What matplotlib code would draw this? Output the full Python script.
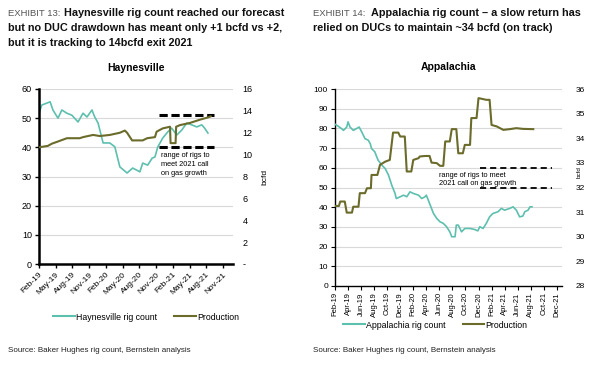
import matplotlib.pyplot as plt
from matplotlib.lines import Line2D

plt.rcParams['font.family'] = ['Liberation Sans', 'DejaVu Sans']

TEAL = '#5dbfae'
OLIVE = '#6b6b2b'
GRID = '#d9d9d9'

# Haynesville, x in months since Feb-19
hv_rig_m = [0, 0.5, 2.0, 2.5, 3.4, 4.1, 5.0, 5.9, 7.0, 7.9, 8.6, 9.5, 10.0, 10.6,
            11.5, 12.7, 13.6, 14.5, 15.8, 16.8, 18.1, 18.6, 19.5, 20.3, 20.8, 21.3,
            22.2, 23.1, 23.8, 24.7, 25.6, 26.5, 27.4, 28.3, 29.2, 29.7, 30.3]
hv_rig = [51.7, 54.5, 55.6, 52.8, 50.0, 52.8, 51.7, 51.0, 48.7, 51.7, 50.4, 52.8, 50.4, 48.3,
          41.5, 41.5, 40.2, 33.3, 31.2, 32.9, 31.6, 34.6, 33.9, 36.3, 36.7, 40.1,
          43.2, 45.3, 46.6, 44.2, 45.9, 48.3, 47.7, 47.0, 47.7, 46.6, 44.9]
hv_prod_m = [0, 1.6, 2.3, 3.4, 5.0, 7.3, 7.9, 9.7, 10.9, 12.7, 14.5, 15.4, 15.8, 16.7,
             18.6, 19.4, 20.8, 21.1, 22.2, 23.5, 23.6, 24.5, 24.6, 25.3, 27.1, 28.9, 30.3, 30.8]
hv_prod = [10.67, 10.8, 11.0, 11.2, 11.5, 11.5, 11.6, 11.8, 11.7, 11.8, 12.0, 12.2, 12.0, 11.3,
           11.3, 11.5, 11.6, 12.1, 12.4, 12.55, 11.05, 11.05, 12.55, 12.7, 12.9, 13.2, 13.4, 13.5]
hv_range = [40, 51]
hv_range_m = [21.5, 31.4]
hv_ticks = ['Feb-19', 'May-19', 'Aug-19', 'Nov-19', 'Feb-20', 'May-20', 'Aug-20',
            'Nov-20', 'Feb-21', 'May-21', 'Aug-21', 'Nov-21']

# Appalachia
ap_rig_m = [0, 0.5, 1.0, 1.3, 1.8, 2.0, 2.3, 2.8, 3.3, 3.7, 4.1, 4.6, 5.1, 5.4, 5.6, 6.1,
            6.6, 7.2, 7.7, 8.2, 8.7, 9.2, 9.4, 10.0, 10.5, 11.0, 11.5, 12.0, 12.8, 13.3,
            13.8, 14.0, 14.5, 15.1, 15.6, 16.1, 16.6, 17.1, 17.6, 17.9, 18.4, 18.6, 18.9,
            19.4, 19.9, 20.7, 21.4, 21.9, 22.2, 22.7, 23.2, 23.7, 24.2, 25.0, 25.5, 26.0,
            26.8, 27.3, 27.8, 28.3, 28.8, 29.1, 29.6, 29.9, 30.2]
ap_rig = [82.1, 81.1, 79.9, 79.0, 80.7, 83.3, 80.7, 79.0, 79.9, 80.7, 78.2, 74.8, 74.0, 72.3,
          69.8, 68.1, 63.9, 61.3, 59.6, 56.3, 51.2, 47.0, 44.4, 45.3, 46.1, 45.3, 47.8, 47.0,
          46.1, 44.4, 45.3, 46.1, 41.9, 36.8, 34.3, 32.6, 31.8, 30.1, 27.5, 25.0, 25.0, 30.9,
          30.9, 27.5, 29.2, 29.2, 28.7, 28.0, 30.1, 29.2, 31.8, 35.1, 36.8, 37.7, 39.4, 38.5,
          39.4, 40.2, 38.5, 35.1, 35.5, 37.7, 38.5, 40.2, 40.2]
ap_prod_m = [0, 0.6, 0.8, 1.5, 1.8, 2.6, 2.8, 3.6, 3.8, 4.6, 4.9, 5.5, 5.6, 6.5, 6.9, 7.7,
             8.4, 8.9, 9.7, 10.0, 10.7, 11.0, 11.7, 12.0, 12.8, 13.0, 13.8, 14.5, 14.8, 15.6,
             16.1, 16.6, 16.9, 17.6, 17.9, 18.6, 18.9, 19.6, 19.9, 20.7, 20.9, 21.7, 22.0,
             22.7, 23.2, 23.7, 24.0, 24.8, 25.3, 25.8, 26.8, 27.8, 28.8, 30.4]
ap_prod = [31.25, 31.25, 31.43, 31.43, 30.98, 30.98, 31.22, 31.22, 31.77, 31.77, 31.97, 31.97,
           32.51, 32.51, 32.92, 33.05, 33.12, 34.23, 34.23, 34.07, 34.07, 32.65, 32.65, 33.12,
           33.19, 33.26, 33.28, 33.28, 33.01, 32.99, 32.88, 32.88, 33.87, 33.87, 34.37, 34.37,
           33.39, 33.39, 33.73, 33.73, 34.82, 34.82, 35.63, 35.59, 35.56, 35.56, 34.54, 34.48,
           34.41, 34.34, 34.37, 34.41, 34.38, 34.37]
ap_range = [50, 60]
ap_range_m = [22.2, 33.2]
ap_ticks = ['Feb-19', 'Apr-19', 'Jun-19', 'Aug-19', 'Oct-19', 'Dec-19', 'Feb-20', 'Apr-20',
            'Jun-20', 'Aug-20', 'Oct-20', 'Dec-20', 'Feb-21', 'Apr-21', 'Jun-21', 'Aug-21',
            'Oct-21', 'Dec-21']

W, H = 600, 366
fig = plt.figure(figsize=(6, 3.66), dpi=100)


def px_axes(x0, y0, x1, y1):
    return fig.add_axes([x0 / W, 1 - y1 / H, (x1 - x0) / W, (y1 - y0) / H])


def fx(x):
    return x / W


def fy(y):
    return 1 - y / H


# ---- headers
fig.text(fx(8), fy(13), 'EXHIBIT 13:', fontsize=6.8, color='#555555', va='center')
fig.text(fx(64), fy(13), 'Haynesville rig count reached our forecast',
         fontsize=7.8, fontweight='bold', va='center', color='#111111')
fig.text(fx(8), fy(28), 'but no DUC drawdown has meant only +1 bcfd vs +2,',
         fontsize=7.8, fontweight='bold', va='center', color='#111111')
fig.text(fx(8), fy(43), 'but it is tracking to 14bcfd exit 2021',
         fontsize=7.8, fontweight='bold', va='center', color='#111111')
fig.text(fx(313), fy(13), 'EXHIBIT 14:', fontsize=6.8, color='#555555', va='center')
fig.text(fx(371), fy(13), 'Appalachia rig count \u2013 a slow return has',
         fontsize=7.8, fontweight='bold', va='center', color='#111111')
fig.text(fx(313), fy(28), 'relied on DUCs to maintain ~34 bcfd (on track)',
         fontsize=7.8, fontweight='bold', va='center', color='#111111')

# ---- Haynesville
ax1 = px_axes(39, 89, 233, 264)
ax1.plot(hv_rig_m, hv_rig, color=TEAL, lw=1.2, zorder=3)
ax1.plot(hv_range_m, [hv_range[0]] * 2, color='black', lw=2.2, dashes=(2.7, 1.2), zorder=4)
ax1.plot(hv_range_m, [hv_range[1]] * 2, color='black', lw=2.2, dashes=(2.7, 1.2), zorder=4)
ax1.set_xlim(0, 34.8)
ax1.set_ylim(0, 60)
ax1.set_yticks(range(0, 61, 10))
ax1.set_xticks(range(0, 34, 3))
ax1.set_xticklabels(hv_ticks, rotation=45, ha='right', rotation_mode='anchor', fontsize=6)
ax1.tick_params(axis='y', labelsize=6.5, length=3, width=1, pad=2)
ax1.tick_params(axis='x', length=3, width=1, pad=2)
for y in range(10, 61, 10):
    ax1.axhline(y, color=GRID, lw=0.8, zorder=1)
for s in ['top', 'right']:
    ax1.spines[s].set_visible(False)
for s in ['left', 'bottom']:
    ax1.spines[s].set_linewidth(1.8)
    ax1.spines[s].set_zorder(5)
ax1.set_title('Haynesville', fontsize=7.5, fontweight='bold', pad=13)

ax1b = ax1.twinx()
ax1b.plot(hv_prod_m, hv_prod, color=OLIVE, lw=1.5, zorder=3)
ax1b.set_ylim(0, 16)
ax1b.set_yticks(range(0, 17, 2))
ax1b.set_yticklabels(['-'] + [str(v) for v in range(2, 17, 2)])
ax1b.tick_params(axis='y', labelsize=6.5, length=0, pad=7)
for s in ax1b.spines.values():
    s.set_visible(False)
ax1b.set_ylabel('bcfd', fontsize=6, labelpad=6)

ax1.text(21.9, 38.3, 'range of rigs to\nmeet 2021 call\non gas growth',
         fontsize=5.3, va='top', ha='left', linespacing=1.35, zorder=6)

fig.legend(handles=[Line2D([], [], color=TEAL, lw=1.5), Line2D([], [], color=OLIVE, lw=1.5)],
           labels=['Haynesville rig count', 'Production'], loc='center',
           bbox_to_anchor=(fx(146), fy(317)), ncol=2, frameon=False, fontsize=6.3,
           handlelength=2.5, handletextpad=0.1, columnspacing=2.0)
fig.text(fx(8), fy(350), 'Source: Baker Hughes rig count, Bernstein analysis',
         fontsize=5.8, va='center', color='#222222')

# ---- Appalachia
ax2 = px_axes(335, 89, 562, 286)
ax2.plot(ap_rig_m, ap_rig, color=TEAL, lw=1.2, zorder=3)
ax2.plot(ap_range_m, [ap_range[0]] * 2, color='black', lw=1.3, dashes=(3.4, 2.2), zorder=4)
ax2.plot(ap_range_m, [ap_range[1]] * 2, color='black', lw=1.3, dashes=(3.4, 2.2), zorder=4)
ax2.set_xlim(0, 34.8)
ax2.set_ylim(0, 100)
ax2.set_yticks(range(0, 101, 10))
ax2.set_xticks(range(0, 35, 2))
ax2.set_xticklabels(ap_ticks, rotation=90, fontsize=5.5)
ax2.tick_params(axis='y', labelsize=6, length=3, width=0.8, pad=2)
ax2.tick_params(axis='x', length=3, width=0.8, pad=1.5)
for y in range(10, 101, 10):
    ax2.axhline(y, color=GRID, lw=0.8, zorder=1)
for s in ['top', 'right']:
    ax2.spines[s].set_visible(False)
for s in ['left', 'bottom']:
    ax2.spines[s].set_linewidth(1.0)
ax2.set_title('Appalachia', fontsize=7.5, fontweight='bold', pad=14)

ax2b = ax2.twinx()
ax2b.plot(ap_prod_m, ap_prod, color=OLIVE, lw=1.5, zorder=3)
ax2b.set_ylim(28, 36)
ax2b.set_yticks(range(28, 37))
ax2b.tick_params(axis='y', labelsize=6, length=0, pad=10)
for s in ax2b.spines.values():
    s.set_visible(False)
fig.text(fx(579), fy(172), 'bcfd', rotation=90, fontsize=4.5, ha='center', va='center')

ax2.text(16.0, 58.0, 'range of rigs to meet\n2021 call on gas growth',
         fontsize=5.3, va='top', ha='left', linespacing=1.3, zorder=6)

fig.legend(handles=[Line2D([], [], color=TEAL, lw=1.5), Line2D([], [], color=OLIVE, lw=1.5)],
           labels=['Appalachia rig count', 'Production'], loc='center',
           bbox_to_anchor=(fx(435), fy(325)), ncol=2, frameon=False, fontsize=6.3,
           handlelength=2.5, handletextpad=0.1, columnspacing=2.0)
fig.text(fx(313), fy(350), 'Source: Baker Hughes rig count, Bernstein analysis',
         fontsize=5.8, va='center', color='#222222')

fig.savefig('out.png', dpi=100)
